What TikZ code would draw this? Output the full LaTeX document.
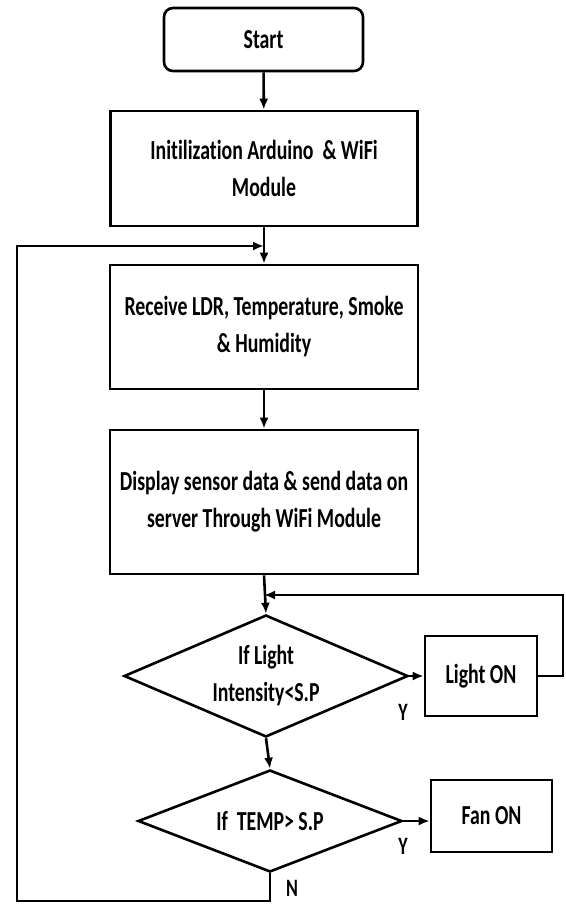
\documentclass[tikz,border=0pt]{standalone}
\usepackage{fontspec}
\setmainfont{Carlito}[FakeStretch=0.72, Ligatures=NoCommon]
\usetikzlibrary{shapes.geometric,arrows.meta}
\begin{document}
\begin{tikzpicture}[x=1pt,y=-1pt,
  line width=2.6pt,
  every node/.style={font=\bfseries\fontsize{27.5}{37}\selectfont, align=center, inner sep=0pt},
  box/.style={draw, rectangle, line width=2.6pt},
  rbox/.style={box, rounded corners=9pt},
  dec/.style={draw, diamond, line width=2.6pt},
  arr/.style={-{Latex[length=11pt,width=9pt]}},
  lbl/.style={font=\bfseries\fontsize{25}{30}\selectfont}]
\useasboundingbox (0,0) rectangle (565,904);
\node[rbox, minimum width=199pt, minimum height=63pt] (start) at (263.5,39.5) {Start};
\node[box, minimum width=307pt, minimum height=115pt] (init) at (264,168.5) {Initilization Arduino \ \& WiFi\\Module};
\node[box, minimum width=308pt, minimum height=124pt] (recv) at (264,327) {Receive LDR, Temperature, Smoke\\\& Humidity};
\node[box, minimum width=308pt, minimum height=144pt] (disp) at (264,502) {Display sensor data \& send data on\\server Through WiFi Module};
\node[dec, minimum width=284pt, minimum height=122pt, shape aspect=2.3] (d1) at (266,676) {If Light\\Intensity<S.P};
\node[box, minimum width=112pt, minimum height=80pt] (light) at (481,676) {Light ON};
\node[dec, minimum width=264pt, minimum height=102pt, shape aspect=2.6] (d2) at (270,821) {If \ TEMP> S.P};
\node[box, minimum width=121pt, minimum height=72pt] (fan) at (491.5,816) {Fan ON};
\node[lbl] (y1) at (403,712) {Y};
\node[lbl] (y2) at (403,846) {Y};
\node[lbl] (n1) at (292,888) {N};
\coordinate (j0) at (264,246);
\coordinate (j1) at (264,595);
\coordinate (cR) at (563,595);
\coordinate (cBL) at (17,901);
\draw[arr] (start) -- (init);
\draw[arr] (init) -- (recv);
\draw[arr] (recv) -- (disp);
\draw[arr] (disp.south) -- (d1.north);
\draw[arr] (d1.east) -- (light.west);
\draw[arr] (d1.south) -- (d2.north);
\draw[arr] (d2.east) -- (d2.east -| fan.west);
\draw[arr] (light.east) -| (cR) -- (j1);
\draw[arr] (d2.south) |- (cBL) |- (j0);
\end{tikzpicture}
\end{document}
